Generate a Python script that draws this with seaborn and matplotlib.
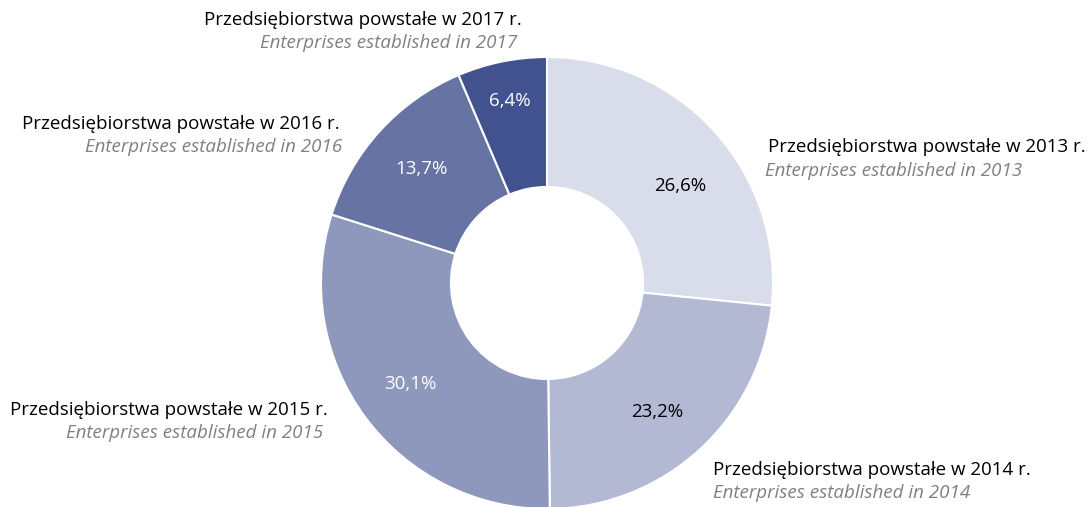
import numpy as np
import seaborn as sns
import matplotlib.pyplot as plt

sns.set_theme(style="white")
plt.rcParams['font.family'] = ['Open Sans', 'DejaVu Sans']

years = ['2013', '2014', '2015', '2016', '2017']
shares = [26.6, 23.2, 30.1, 13.7, 6.4]
labels_pl = ['Przedsiębiorstwa powstałe w %s r.' % y for y in years]
labels_en = ['Enterprises established in %s' % y for y in years]

colors = sns.color_palette(['#d9dcea', '#b3b8d3', '#8e97bc', '#6673a3', '#42528e'])
pct_colors = ['black', 'black', 'white', 'white', 'white']
pct_r = [0.73, 0.75, 0.75, 0.75, 0.82]
pct_turn = [-6, -2, 0, 0, 0]

W, H = 1091, 507
fig = plt.figure(figsize=(W / 100, H / 100), dpi=100)
ax = fig.add_axes([0, 0, 1, 1])

cx, cy, R = 547, H - 283, 226
wedges, _ = ax.pie(shares, colors=colors, startangle=90, counterclock=False,
                   center=(cx, cy), radius=R, frame=True,
                   wedgeprops=dict(width=R * 0.575, edgecolor='white', linewidth=1.5))
ax.set_xlim(0, W)
ax.set_ylim(0, H)
ax.set_aspect('equal')
ax.axis('off')

for w, v, c, r, t in zip(wedges, shares, pct_colors, pct_r, pct_turn):
    ang = np.deg2rad((w.theta1 + w.theta2) / 2 + t)
    ax.text(cx + R * r * np.cos(ang), cy + R * r * np.sin(ang),
            ('%.1f%%' % v).replace('.', ','), ha='center', va='center',
            color=c, fontsize=13.5)

# label anchors (pixels from top-left), alignment, english line shift
label_pos = [(768, 147, 'left', -3), (713, 470, 'left', 0), (328, 410, 'right', -5),
             (340, 124, 'right', 2), (522, 20, 'right', -5)]
for (x, y, ha, dx), pl, en in zip(label_pos, labels_pl, labels_en):
    ax.text(x, H - y, pl, ha=ha, va='center', fontsize=13.5, color='black')
    ax.text(x + dx, H - y - 23.5, en, ha=ha, va='center', fontsize=13.5,
            color='#808080', style='italic')

fig.savefig('out.png', dpi=100)
